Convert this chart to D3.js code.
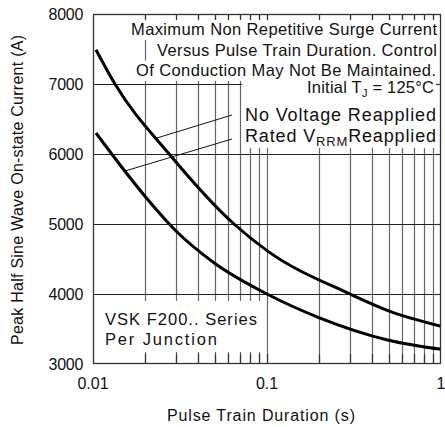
<!DOCTYPE html>
<html>
<head>
<meta charset="utf-8">
<script src="https://d3js.org/d3.v7.min.js"></script>
<style>
  body { margin: 0; background: #fff; }
  text { font-family: "Liberation Sans", Arial, sans-serif; fill: #111; }
</style>
</head>
<body>
<script>

  // pulse train duration (s)
  var durUpper = [0.0104, 0.01338, 0.0274, 0.0646, 0.1,  0.3,  0.5,  1];
  var upper    = [7490,   7000,    6000,   5000,   4620, 4000, 3760, 3540];

  var durLower = [0.0104, 0.02, 0.03, 0.05, 0.1,  0.2,  0.5,  1];
  var lower    = [6300,   5390, 4900, 4440, 4000, 3660, 3340, 3210];

  var xTicks = [0.01, 0.1, 1];
  var yTicks = [3000, 4000, 5000, 6000, 7000, 8000];

  // leader lines [x1, y1, x2, y2] in data units
  var leaderNoVolt = [0.02332, 6229, 0.0629, 6557];
  var leaderRated  = [0.01527, 5757, 0.0629, 6214];

  var w = 445, h = 427;
  var margin = {top: 14, right: 4, bottom: 63, left: 93},
      width = w - margin.left - margin.right,
      height = h - margin.top - margin.bottom;

  var svg = d3.select("body").append("svg")
      .attr("width", w)
      .attr("height", h);

  var x = d3.scaleLog().domain([0.01, 1]).range([0, width]);
  var y = d3.scaleLinear().domain([3000, 8000]).range([height, 0]);

  var g = svg.append("g")
      .attr("transform", "translate(" + margin.left + "," + margin.top + ")");

  // minor positions for grid
  var minor = [];
  [0.01, 0.1].forEach(function(d) {
    for (var k = 2; k <= 9; k++) minor.push(d * k);
  });
  minor.push(0.1);

  g.selectAll(".vgrid").data(minor).enter().append("line")
      .attr("class", "vgrid")
      .attr("x1", function(d) { return Math.round(x(d)) + 0.5; })
      .attr("x2", function(d) { return Math.round(x(d)) + 0.5; })
      .attr("y1", 0).attr("y2", height)
      .attr("stroke", "#666").attr("stroke-width", 1.2);

  g.selectAll(".hgrid").data(yTicks.slice(1, -1)).enter().append("line")
      .attr("class", "hgrid")
      .attr("x1", 0).attr("x2", width)
      .attr("y1", function(d) { return Math.round(y(d)) + 0.5; })
      .attr("y2", function(d) { return Math.round(y(d)) + 0.5; })
      .attr("stroke", "#222").attr("stroke-width", 1.2);

  // annotations (white backed)
  var boxes = g.append("g");
  var notes = g.append("g");

  function note(x0, yb, len, size) {
    return notes.append("text")
        .attr("x", x0 - margin.left).attr("y", yb - margin.top)
        .attr("textLength", len).attr("lengthAdjust", "spacing")
        .style("font-size", size + "px");
  }

  var topLines = [["Maximum Non Repetitive Surge Current", 131, 306],
                  ["Versus Pulse Train Duration. Control", 157, 280],
                  ["Of Conduction May Not Be Maintained.", 136, 300]];
  topLines.forEach(function(s, i) {
    var yb = 35 + i * 20.5;
    note(s[1], yb, s[2], 16.5).text(s[0]);
    boxes.append("rect")
        .attr("x", s[1] - 3 - margin.left).attr("y", yb - 15.5 - margin.top)
        .attr("width", width - 1 - (s[1] - 3 - margin.left)).attr("height", 20.5)
        .attr("fill", "#fff");
  });

  var t1 = note(307, 93, 127, 16.5);
  t1.append("tspan").text("Initial T");
  t1.append("tspan").attr("dy", 4).style("font-size", "11px").text("J");
  t1.append("tspan").attr("dy", -4).text(" = 125°C");
  note(245, 121, 191, 18).text("No Voltage Reapplied");
  var t3 = note(245, 142, 191, 18);
  t3.append("tspan").text("Rated V");
  t3.append("tspan").attr("dy", 4).style("font-size", "13px").text("RRM");
  t3.append("tspan").attr("dy", -4).text("Reapplied");
  boxes.append("rect")
      .attr("x", 242 - margin.left).attr("y", y(7000) - 4)
      .attr("width", width - 1 - (242 - margin.left))
      .attr("height", 138 - y(7000))
      .attr("fill", "#fff");

  note(105, 325, 152, 16.5).text("VSK F200.. Series");
  note(105, 345, 112, 16.5).text("Per Junction");
  boxes.append("rect")
      .attr("x", 1).attr("y", y(4000) + 7)
      .attr("width", 261 - margin.left)
      .attr("height", height - 12 - (y(4000) + 7))
      .attr("fill", "#fff");

  // inner ticks
  var tk = g.append("g").attr("stroke", "#333").attr("stroke-width", 1.2);
  minor.forEach(function(d) {
    var px = Math.round(x(d)) + 0.5;
    tk.append("line").attr("x1", px).attr("x2", px).attr("y1", 0).attr("y2", 6);
    tk.append("line").attr("x1", px).attr("x2", px).attr("y1", height).attr("y2", height - 10);
  });
  yTicks.slice(1, -1).forEach(function(d) {
    var py = Math.round(y(d)) + 0.5;
    tk.append("line").attr("x1", width).attr("x2", width - 5).attr("y1", py).attr("y2", py);
  });

  // leader lines
  [leaderNoVolt, leaderRated].forEach(function(l) {
    g.append("line")
        .attr("x1", x(l[0])).attr("y1", y(l[1]))
        .attr("x2", x(l[2])).attr("y2", y(l[3]))
        .attr("stroke", "#111").attr("stroke-width", 1);
  });

  // curves
  var line = d3.line()
      .x(function(d) { return x(d[0]); })
      .y(function(d) { return y(d[1]); })
      .curve(d3.curveMonotoneX);

  g.append("path")
      .datum(d3.zip(durUpper, upper))
      .attr("d", line)
      .attr("fill", "none").attr("stroke", "#000").attr("stroke-width", 3);

  g.append("path")
      .datum(d3.zip(durLower, lower))
      .attr("d", line)
      .attr("fill", "none").attr("stroke", "#000").attr("stroke-width", 3);

  // frame
  g.append("rect")
      .attr("x", 0.5).attr("y", 0.5)
      .attr("width", width - 1).attr("height", height - 1)
      .attr("fill", "none").attr("stroke", "#333").attr("stroke-width", 1.3);

  // axis labels
  g.selectAll(".xl").data(xTicks).enter().append("text")
      .attr("x", function(d) { return x(d); })
      .attr("y", height + 25)
      .attr("text-anchor", "middle")
      .style("font-size", "16px")
      .text(function(d) { return d3.format("")(d); });

  g.selectAll(".yl").data(yTicks).enter().append("text")
      .attr("x", -10)
      .attr("y", function(d) { return y(d) + 6; })
      .attr("text-anchor", "end")
      .style("font-size", "16px")
      .style("letter-spacing", "-0.3px")
      .text(function(d) { return d; });

  svg.append("text")
      .attr("x", 167).attr("y", 421)
      .attr("textLength", 188).attr("lengthAdjust", "spacing")
      .style("font-size", "16px")
      .text("Pulse Train Duration (s)");

  svg.append("text")
      .attr("transform", "translate(23,345) rotate(-90)")
      .attr("textLength", 310).attr("lengthAdjust", "spacing")
      .style("font-size", "16px")
      .text("Peak Half Sine Wave On-state Current (A)");

</script>
</body>
</html>
